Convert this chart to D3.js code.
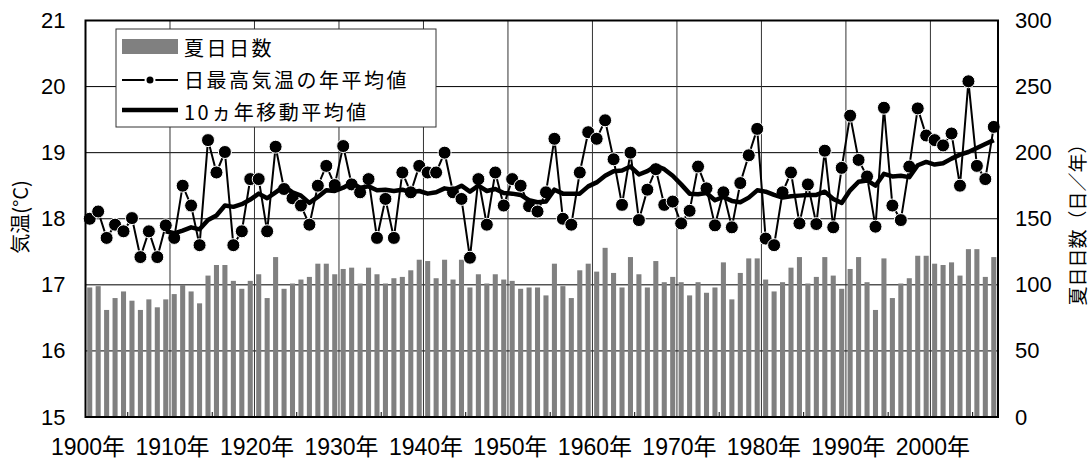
<!DOCTYPE html>
<html>
<head>
<meta charset="utf-8">
<style>
  body { margin: 0; background: #fff; }
  text { font-family: "Liberation Sans Narrow", "Liberation Sans", "Noto Sans CJK JP", sans-serif; fill: #000; }
  .jp { font-family: "Noto Sans CJK JP", sans-serif; }
</style>
</head>
<body>
<script src="https://cdn.jsdelivr.net/npm/d3@7"></script>
<script>
// category axis: one slot per year
var years = d3.range(1900, 2008);
var xLabelYears = [1900, 1910, 1920, 1930, 1940, 1950, 1960, 1970, 1980, 1990, 2000];
var tempTicks = [15, 16, 17, 18, 19, 20, 21];
var dayTicks = [0, 50, 100, 150, 200, 250, 300];

// 夏日日数 (days / year)
var summerDays = [
  98, 99, 81, 90, 95, 88, 81, 89, 83, 89,
  93, 100, 95, 86, 107, 115, 115, 103, 97, 103,
  108, 90, 121, 97, 101, 104, 106, 116, 116, 108,
  112, 113, 101, 113, 108, 101, 105, 106, 111, 119,
  118, 105, 119, 104, 119, 98, 108, 101, 108, 104,
  103, 97, 98, 98, 92, 116, 99, 90, 111, 116,
  110, 128, 109, 98, 121, 108, 98, 118, 102, 106,
  102, 92, 102, 94, 98, 117, 89, 109, 120, 120,
  104, 95, 102, 113, 121, 101, 106, 121, 107, 97,
  112, 121, 102, 81, 120, 90, 101, 105, 122, 122,
  116, 115, 117, 107, 127, 127, 106, 121
];

// 日最高気温の年平均値 (°C)
var maxTempMean = [
  18.00, 18.11, 17.71, 17.91, 17.81, 18.01, 17.42, 17.81, 17.42, 17.90,
  17.71, 18.50, 18.20, 17.60, 19.19, 18.70, 19.01, 17.60, 17.81, 18.60,
  18.60, 17.81, 19.09, 18.45, 18.31, 18.20, 17.91, 18.50, 18.80, 18.51,
  19.10, 18.52, 18.40, 18.60, 17.71, 18.30, 17.71, 18.70, 18.40, 18.80,
  18.70, 18.70, 19.00, 18.40, 18.30, 17.41, 18.60, 17.91, 18.70, 18.20,
  18.60, 18.50, 18.19, 18.11, 18.40, 19.21, 18.00, 17.91, 18.70, 19.31,
  19.21, 19.49, 18.90, 18.21, 19.00, 17.98, 18.44, 18.75, 18.21, 18.26,
  17.93, 18.12, 18.79, 18.46, 17.90, 18.40, 17.87, 18.54, 18.96, 19.36,
  17.70, 17.60, 18.40, 18.70, 17.93, 18.52, 17.92, 19.03, 17.87, 18.77,
  19.56, 18.89, 18.64, 17.88, 19.68, 18.20, 17.98, 18.79, 19.67, 19.26,
  19.19, 19.11, 19.29, 18.50, 20.08, 18.80, 18.60, 19.39
];

// 10ヵ年移動平均値 (°C), first value is for 1909
var movingAvgStart = 1909;
var movingAvg = [
  17.81, 17.78, 17.82, 17.87, 17.84, 17.98, 18.05, 18.20, 18.18, 18.22,
  18.29, 18.38, 18.31, 18.40, 18.49, 18.40, 18.35, 18.24, 18.33, 18.43,
  18.42, 18.47, 18.54, 18.47, 18.49, 18.43, 18.44, 18.42, 18.44, 18.40,
  18.42, 18.38, 18.40, 18.46, 18.44, 18.50, 18.41, 18.50, 18.42, 18.45,
  18.39, 18.38, 18.36, 18.28, 18.25, 18.26, 18.44, 18.38, 18.38, 18.38,
  18.49, 18.55, 18.65, 18.72, 18.73, 18.79, 18.67, 18.72, 18.80, 18.75,
  18.65, 18.52, 18.38, 18.37, 18.39, 18.28, 18.33, 18.27, 18.25, 18.32,
  18.43, 18.41, 18.36, 18.32, 18.34, 18.35, 18.36, 18.36, 18.41, 18.30,
  18.24, 18.43, 18.56, 18.58, 18.50, 18.68, 18.64, 18.65, 18.63, 18.81,
  18.86, 18.82, 18.84, 18.91, 18.97, 19.01, 19.07, 19.13, 19.19
];

var margin = {top: 20.5, right: 91, bottom: 46, left: 85.5};
var width = 1089 - margin.left - margin.right;
var height = 463 - margin.top - margin.bottom;

var svg = d3.select("body").append("svg")
    .attr("width", 1089)
    .attr("height", 463);
var g = svg.append("g")
    .attr("transform", "translate(" + margin.left + "," + margin.top + ")");

var xScale = d3.scaleBand().domain(years).range([0, width]);
var barScale = d3.scaleBand().domain(years).range([0, width])
    .paddingInner(0.4).paddingOuter(0.2);
var yTemp = d3.scaleLinear().domain([15, 21]).range([height, 0]);
var yDays = d3.scaleLinear().domain([0, 300]).range([height, 0]);
var xMid = function(yr) { return xScale(yr) + xScale.bandwidth() / 2; };

// gridlines
g.append("g").selectAll("line")
  .data(tempTicks.slice(1, -1))
  .enter().append("line")
    .attr("x1", 0).attr("x2", width)
    .attr("y1", function(d) { return yTemp(d); })
    .attr("y2", function(d) { return yTemp(d); })
    .attr("stroke", "#000").attr("stroke-width", 1);

g.append("g").selectAll("line")
  .data(xLabelYears.slice(1))
  .enter().append("line")
    .attr("x1", function(d) { return xScale(d); })
    .attr("x2", function(d) { return xScale(d); })
    .attr("y1", 0).attr("y2", height)
    .attr("stroke", "#333").attr("stroke-width", 1);

// small ticks every 5 years at the bottom
g.append("g").selectAll("line")
  .data(years.filter(function(d) { return d % 10 === 5; }))
  .enter().append("line")
    .attr("x1", function(d) { return xScale(d); })
    .attr("x2", function(d) { return xScale(d); })
    .attr("y1", height - 5).attr("y2", height)
    .attr("stroke", "#000").attr("stroke-width", 1);

// bars
g.append("g").selectAll("rect")
  .data(summerDays)
  .enter().append("rect")
    .attr("x", function(d, i) { return barScale(years[i]); })
    .attr("width", barScale.bandwidth())
    .attr("y", function(d) { return yDays(d); })
    .attr("height", function(d) { return height - yDays(d); })
    .attr("fill", "#808080");

// annual mean line with markers
var tempLine = d3.line()
  .x(function(d, i) { return xMid(years[i]); })
  .y(function(d) { return yTemp(d); });
g.append("path")
  .datum(maxTempMean)
  .attr("d", tempLine)
  .attr("fill", "none")
  .attr("stroke", "#000")
  .attr("stroke-width", 2);
g.append("g").selectAll("circle")
  .data(maxTempMean)
  .enter().append("circle")
    .attr("cx", function(d, i) { return xMid(years[i]); })
    .attr("cy", function(d) { return yTemp(d); })
    .attr("r", 6.5)
    .attr("fill", "#000")
    .attr("stroke", "#fff")
    .attr("stroke-width", 1);

// moving average
var maLine = d3.line()
  .x(function(d, i) { return xMid(movingAvgStart + i); })
  .y(function(d) { return yTemp(d); });
g.append("path")
  .datum(movingAvg)
  .attr("d", maLine)
  .attr("fill", "none")
  .attr("stroke", "#000")
  .attr("stroke-width", 4.5)
  .attr("stroke-linejoin", "round");

// frame
g.append("rect")
  .attr("x", 0).attr("y", 0)
  .attr("width", width).attr("height", height)
  .attr("fill", "none")
  .attr("stroke", "#000")
  .attr("stroke-width", 2);

// axes
var leftAxis = g.append("g")
  .call(d3.axisLeft(yTemp).tickValues(tempTicks).tickFormat(d3.format("d"))
    .tickSize(0).tickPadding(20));
var rightAxis = g.append("g")
  .attr("transform", "translate(" + width + ",0)")
  .call(d3.axisRight(yDays).tickValues(dayTicks).tickFormat(d3.format("d"))
    .tickSize(0).tickPadding(17));
[leftAxis, rightAxis].forEach(function(ax) {
  ax.select(".domain").remove();
  ax.selectAll("text")
    .attr("font-size", 22)
    .attr("font-family", null)
    .attr("fill", "#000");
});

g.append("g").selectAll("text")
  .data(xLabelYears)
  .enter().append("text")
    .attr("x", function(d) { return xScale(d) + 2.5; })
    .attr("y", height + 30)
    .attr("text-anchor", "middle")
    .attr("dominant-baseline", "central")
    .attr("font-size", 23)
    .text(function(d) { return d + "年"; });

// axis titles
svg.append("text")
  .attr("class", "jp")
  .attr("transform", "translate(19,217) rotate(-90)")
  .attr("text-anchor", "middle")
  .attr("dominant-baseline", "central")
  .attr("font-size", 20)
  .text("気温(°C)");

svg.append("text")
  .attr("class", "jp")
  .attr("transform", "translate(1076,220) rotate(-90)")
  .attr("text-anchor", "middle")
  .attr("dominant-baseline", "central")
  .attr("font-size", 19)
  .text("夏日日数（日／年）");

// legend
var legend = svg.append("g");
legend.append("rect")
  .attr("x", 116).attr("y", 29)
  .attr("width", 320).attr("height", 98)
  .attr("fill", "#fff")
  .attr("stroke", "#333")
  .attr("stroke-width", 1);
legend.append("rect")
  .attr("x", 122).attr("y", 39)
  .attr("width", 56).attr("height", 15)
  .attr("fill", "#808080");
legend.append("line")
  .attr("x1", 122).attr("x2", 178).attr("y1", 80).attr("y2", 80)
  .attr("stroke", "#000").attr("stroke-width", 2);
legend.append("circle")
  .attr("cx", 150).attr("cy", 80).attr("r", 4.5)
  .attr("fill", "#000").attr("stroke", "#fff").attr("stroke-width", 2);
legend.append("line")
  .attr("x1", 122).attr("x2", 178).attr("y1", 110).attr("y2", 110)
  .attr("stroke", "#000").attr("stroke-width", 4.5);

var legendLabels = ["夏日日数", "日最高気温の年平均値", "10ヵ年移動平均値"];
legend.selectAll("text.lab")
  .data(legendLabels)
  .enter().append("text")
    .attr("class", "jp lab")
    .attr("x", 184)
    .attr("y", function(d, i) { return 47 + i * 32; })
    .attr("dominant-baseline", "central")
    .attr("font-size", 20)
    .attr("letter-spacing", 2.5)
    .text(function(d) { return d; });
</script>
</body>
</html>
